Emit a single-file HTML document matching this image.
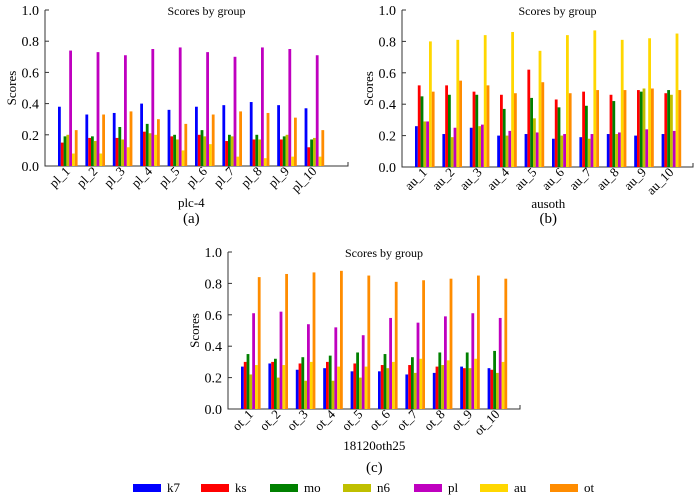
<!DOCTYPE html>
<html><head><meta charset="utf-8"><style>
html,body{margin:0;padding:0;background:#fff;}
svg{display:block;font-family:"Liberation Serif",serif;}
</style></head><body>
<svg id="c" width="700" height="498"></svg>
<script>
const series = ["k7","ks","mo","n6","pl","au","ot"];
const colors = ["#0000ff","#ff0000","#008000","#bfbf00","#bf00bf","#ffd700","#ff8c00"];
const yTicks = [0.0,0.2,0.4,0.6,0.8,1.0];
const catsA = ["pl_1","pl_2","pl_3","pl_4","pl_5","pl_6","pl_7","pl_8","pl_9","pl_10"];
const catsB = ["au_1","au_2","au_3","au_4","au_5","au_6","au_7","au_8","au_9","au_10"];
const catsC = ["ot_1","ot_2","ot_3","ot_4","ot_5","ot_6","ot_7","ot_8","ot_9","ot_10"];
const valsA = [
[.38,.15,.19,.20,.74,.08,.23],[.33,.18,.19,.16,.73,.08,.33],[.34,.18,.25,.17,.71,.12,.35],
[.40,.22,.27,.21,.75,.20,.30],[.36,.19,.20,.17,.76,.10,.27],[.38,.20,.23,.19,.73,.14,.33],
[.39,.16,.20,.19,.70,.06,.35],[.41,.17,.20,.17,.76,.05,.34],[.39,.17,.19,.20,.75,.06,.31],
[.37,.12,.17,.18,.71,.06,.23]];
const valsB = [
[.26,.52,.45,.29,.29,.80,.48],[.21,.52,.46,.19,.25,.81,.55],[.25,.48,.46,.26,.27,.84,.52],
[.20,.46,.37,.20,.23,.86,.47],[.21,.62,.44,.31,.22,.74,.54],[.18,.43,.38,.20,.21,.84,.47],
[.19,.48,.39,.18,.21,.87,.49],[.21,.46,.42,.21,.22,.81,.49],[.20,.49,.48,.50,.24,.82,.50],
[.21,.47,.49,.46,.23,.85,.49]];
const valsC = [
[.27,.30,.35,.22,.61,.28,.84],[.29,.30,.32,.20,.62,.28,.86],[.25,.29,.33,.18,.54,.30,.87],
[.26,.30,.34,.18,.52,.27,.88],[.24,.29,.36,.20,.47,.27,.85],[.24,.28,.35,.26,.58,.30,.81],
[.22,.28,.33,.23,.55,.32,.82],[.23,.27,.36,.28,.59,.31,.83],[.27,.26,.36,.26,.61,.32,.85],
[.26,.25,.37,.23,.58,.30,.83]];

const NS="http://www.w3.org/2000/svg";
const svg=document.getElementById('c');
function mk(tag,attrs,parent,text){const e=document.createElementNS(NS,tag);for(const k in attrs)e.setAttribute(k,attrs[k]);if(text!==undefined)e.textContent=text;(parent||svg).appendChild(e);return e;}

function chart(id,ox,y0,y1,axEnd,cats,vals,xtitle,label,labelY){
  const g=mk('g',{});
  
  
  const ys=v=>y0-(y0-y1)*v;
  const bw=2.8, gap=27.4, start=ox+13;
  const xs=i=>start+i*gap;
  const ax=mk('path',{d:`M${ox} ${y1}V${y0}H${axEnd}V${y0-4}`,stroke:'#333',fill:'none','stroke-width':1},g);
  
  
  yTicks.forEach(t=>{
    mk('line',{x1:ox,x2:ox+4,y1:ys(t),y2:ys(t),stroke:'#333'},g);
    const tl=mk('text',{x:ox-6,y:ys(t)+5,'text-anchor':'end','font-size':14},g,t.toFixed(1));
    
    
  });
  const tt=mk('text',{x:ox+(axEnd-ox)/2+10,y:y1+5,'text-anchor':'middle','font-size':12},g,'Scores by group');
  
  
  const yt=mk('text',{x:0,y:0,transform:`translate(${ox-29},${(y0+y1)/2}) rotate(-90)`,'text-anchor':'middle','font-size':13},g,'Scores');
  
  
  cats.forEach((c,i)=>{
    vals[i].forEach((v,j)=>{
      const r=mk('rect',{x:xs(i)+j*bw,y:ys(v),width:bw,height:y0-ys(v),fill:colors[j]},g);
      
      
    });
    const cx=xs(i)+3.5*bw+3;
    const l=mk('text',{x:0,y:0,transform:`translate(${cx},${y0+6}) rotate(-45)`,'text-anchor':'end','font-size':13},g,c);
    
    
  });
  const xt=mk('text',{x:start+4.5*gap+10,y:y0+41,'text-anchor':'middle','font-size':13},g,xtitle);
  
  
  const pl=mk('text',{x:start+4.5*gap+10,y:labelY,'text-anchor':'middle','font-size':15},g,label);
  
  
}
chart('a',45,166,10,348,catsA,valsA,'plc-4','(a)',223);
chart('b',402,167,10,693,catsB,valsB,'ausoth','(b)',223);
chart('c',228,409,252,520,catsC,valsC,'18120oth25','(c)',472);

const lx=[133,201,270,343,414,480,550];
series.forEach((s,j)=>{
  const r=mk('rect',{x:lx[j],y:484,width:28,height:8,fill:colors[j]});
  
  
  const t=mk('text',{x:lx[j]+34,y:492,'font-size':13},svg,s);
  
  
});
</script>
</body></html>
